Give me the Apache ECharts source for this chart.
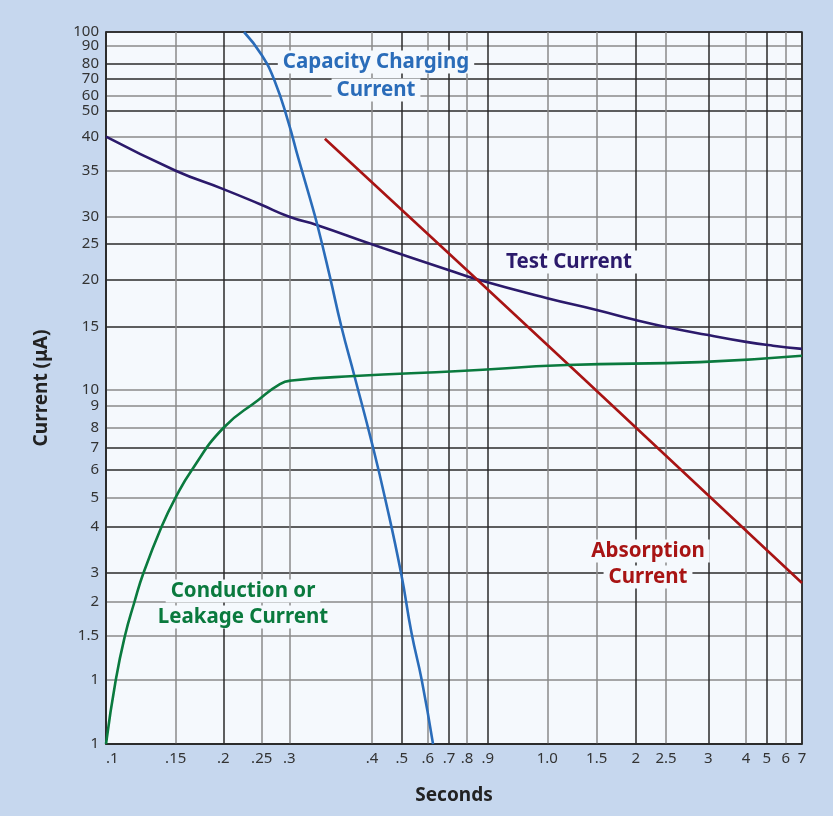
<!DOCTYPE html>
<html>
<head>
<meta charset="utf-8">
<script src="https://cdn.jsdelivr.net/npm/echarts@6/dist/echarts.min.js"></script>
<style>
html,body{margin:0;padding:0;background:#c6d7ee;}
#chart{width:833px;height:816px;}
</style>
</head>
<body>
<div id="chart"></div>
<script>
// ---- Axis scale definition (the chart uses a hand-drawn, irregular scale) ----
const xTickValues = [0.1, 0.15, 0.2, 0.25, 0.3, 0.4, 0.5, 0.6, 0.7, 0.8, 0.9, 1.0, 1.5, 2, 2.5, 3, 4, 5, 6, 7];
const xTickLabels = ['.1', '.15', '.2', '.25', '.3', '.4', '.5', '.6', '.7', '.8', '.9', '1.0', '1.5', '2', '2.5', '3', '4', '5', '6', '7'];
const xScaleStops = [0, 69.7, 117.3, 155.7, 183.3, 266, 295.7, 321.7, 343, 361, 381.7, 441.3, 490.7, 529.7, 560, 602.3, 640, 660.7, 679.7, 696];

const yTickValues = [0.5, 1, 1.5, 2, 3, 4, 5, 6, 7, 8, 9, 10, 15, 20, 25, 30, 35, 40, 50, 60, 70, 80, 90, 100];
const yTickLabels = ['1', '1', '1.5', '2', '3', '4', '5', '6', '7', '8', '9', '10', '15', '20', '25', '30', '35', '40', '50', '60', '70', '80', '90', '100'];
const yScaleStops = [0, 64, 108.3, 142, 171.3, 217.7, 246.7, 274.7, 296.3, 316, 338, 354, 417.3, 464.7, 500.7, 527.3, 573.3, 607.3, 633.7, 648, 665.7, 680.7, 698.3, 712];

// ---- Series data: [seconds, microamps] ----
const testCurrent = [[0.1, 40], [0.15, 35], [0.2, 33], [0.248, 31.35], [0.3, 30], [0.334, 28.4], [0.404, 24.8], [0.697, 21.3], [0.847, 20], [1.0, 18], [1.5, 16.76], [2.0, 15.7], [2.5, 14.98], [3, 14.34], [4, 13.8], [5.33, 13.5], [7, 13.25]];
const capacityCharging = [[0.227, 100], [0.25, 84.7], [0.274, 68.1], [0.298, 45.7], [0.311, 36.8], [0.325, 32], [0.334, 28.4], [0.349, 20.4], [0.363, 15], [0.379, 11.05], [0.4, 7.22], [0.444, 4.97], [0.498, 2.98], [0.538, 1.536], [0.577, 1], [0.625, 0.5]];
const absorptionCurrent = [[0.343, 39.7], [0.847, 20], [1.36, 10.95], [7, 2.65]];
const conductionCurrent = [[0.1, 0.5], [0.107, 1], [0.1136, 1.5], [0.1204, 2], [0.1268, 2.98], [0.14, 4], [0.15, 5], [0.1668, 5.97], [0.2, 8], [0.2456, 9.375], [0.283, 10.47], [0.303, 10.75], [0.379, 11.1], [0.761, 11.5], [1.196, 11.97], [2.9, 12.2], [7, 12.7]];

const DARK = '#2a2a2a', GRAY = '#8a8a8a';
const xGridColors = [DARK, GRAY, DARK, GRAY, GRAY, GRAY, DARK, GRAY, DARK, GRAY, DARK, GRAY, GRAY, DARK, GRAY, DARK, GRAY, DARK, GRAY, DARK];
const yGridColors = [DARK, GRAY, GRAY, GRAY, DARK, DARK, GRAY, DARK, DARK, GRAY, GRAY, GRAY, DARK, DARK, DARK, GRAY, GRAY, GRAY, DARK, GRAY, DARK, DARK, GRAY, DARK];

function scaleMap(v, vals, stops) {
  if (v <= vals[0]) return stops[0];
  for (let i = 0; i < vals.length - 1; i++) {
    if (v <= vals[i + 1]) {
      const t = (v - vals[i]) / (vals[i + 1] - vals[i]);
      return stops[i] + t * (stops[i + 1] - stops[i]);
    }
  }
  return stops[stops.length - 1];
}
function toAxis(points) {
  return points.map(p => [scaleMap(p[0], xTickValues, xScaleStops), scaleMap(p[1], yTickValues, yScaleStops)]);
}
function labelFor(v, stops, labels) {
  for (let i = 0; i < stops.length; i++) if (Math.abs(stops[i] - v) < 0.01) return labels[i];
  return '';
}

const FONT = 'Noto Sans';
const chart = echarts.init(document.getElementById('chart'), null, {renderer: 'canvas'});

function note(text, x, y, color) {
  return {
    type: 'text', x: x, y: y, z: 100,
    style: {
      text: text, fill: color, font: 'bold 20.5px "' + FONT + '"',
      align: 'center', verticalAlign: 'middle',
      backgroundColor: '#f5f9fd', padding: [1, 5]
    }
  };
}

const yLabelStyle = {fontFamily: FONT, fontSize: 15, color: '#333', margin: 7};
const yTopStop = yScaleStops[yScaleStops.length - 1];

chart.setOption({
  backgroundColor: '#c6d7ee',
  animation: false,
  grid: {
    left: 106, right: 31, top: 32, bottom: 72,
    show: true, backgroundColor: '#f5f9fd', borderColor: DARK, borderWidth: 1.5
  },
  xAxis: {
    type: 'value', min: 0, max: 696,
    name: 'Seconds', nameLocation: 'middle', nameGap: 42,
    nameTextStyle: {fontFamily: FONT, fontWeight: 'bold', fontSize: 19, color: '#222'},
    axisLine: {show: true, lineStyle: {color: DARK, width: 1.5}},
    axisTick: {show: false, customValues: xScaleStops},
    axisLabel: {
      customValues: xScaleStops, margin: 7, alignMinLabel: 'left',
      showMinLabel: true, showMaxLabel: true, hideOverlap: false,
      fontFamily: FONT, fontSize: 15, color: '#333',
      formatter: v => labelFor(v, xScaleStops, xTickLabels)
    },
    splitLine: {show: true, lineStyle: {color: xGridColors, width: 1.5}}
  },
  yAxis: [{
    type: 'value', min: 0, max: 712, position: 'left',
    name: 'Current (μA)', nameLocation: 'middle', nameGap: 55, nameRotate: 90,
    nameTextStyle: {fontFamily: FONT, fontWeight: 'bold', fontSize: 19, color: '#222'},
    axisLine: {show: true, lineStyle: {color: DARK, width: 1.5}},
    axisTick: {show: false, customValues: yScaleStops},
    axisLabel: Object.assign({
      customValues: yScaleStops, showMinLabel: true, showMaxLabel: false, hideOverlap: false,
      formatter: v => labelFor(v, yScaleStops, yTickLabels)
    }, yLabelStyle),
    splitLine: {show: true, lineStyle: {color: yGridColors, width: 1.5}}
  }, {
    // companion axis carrying only the top tick label
    type: 'value', min: 0, max: 712, position: 'left', offset: 0,
    axisLine: {show: false}, axisTick: {show: false, customValues: [yTopStop]}, splitLine: {show: false},
    axisLabel: Object.assign({
      customValues: [yTopStop], showMaxLabel: true,
      formatter: v => labelFor(v, yScaleStops, yTickLabels)
    }, yLabelStyle)
  }],
  series: [
    {name: 'Test Current', type: 'line', data: toAxis(testCurrent), showSymbol: false, smooth: 0.5,
     lineStyle: {color: '#2b1a6b', width: 2.6}, z: 5},
    {name: 'Capacity Charging Current', type: 'line', data: toAxis(capacityCharging), showSymbol: false, smooth: 0.5,
     lineStyle: {color: '#2a6cb9', width: 2.6}, z: 5},
    {name: 'Absorption Current', type: 'line', data: toAxis(absorptionCurrent), showSymbol: false,
     lineStyle: {color: '#a81414', width: 2.6}, z: 5},
    {name: 'Conduction or Leakage Current', type: 'line', data: toAxis(conductionCurrent), showSymbol: false, smooth: 0.5,
     lineStyle: {color: '#0a7a3e', width: 2.6}, z: 5}
  ],
  graphic: [
    note('Capacity Charging', 376, 62, '#2a6cb9'),
    note('Current', 376, 90, '#2a6cb9'),
    note('Test Current', 569, 262, '#2b1a6b'),
    note('Absorption', 648, 551, '#a81414'),
    note('Current', 648, 577, '#a81414'),
    note('Conduction or', 243, 591, '#0a7a3e'),
    note('Leakage Current', 243, 617, '#0a7a3e')
  ]
});
</script>
</body>
</html>
